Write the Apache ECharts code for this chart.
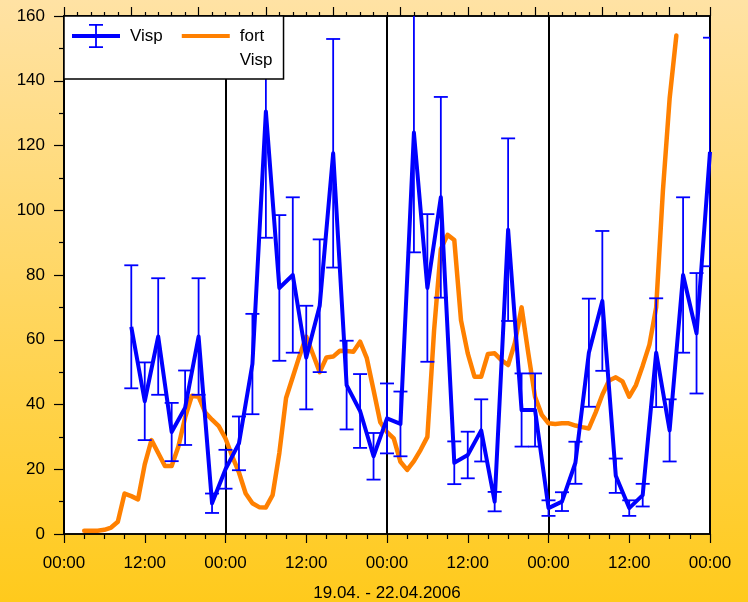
<!DOCTYPE html>
<html>
<head>
<meta charset="utf-8">
<script src="https://cdn.jsdelivr.net/npm/echarts@6/dist/echarts.min.js"></script>
<style>
  html, body { margin: 0; padding: 0; }
  #chart { width: 748px; height: 602px; }
</style>
</head>
<body>
<div id="chart"></div>
<script>
// Hours since 19.04.2006 00:00
const vispHours = [10, 12, 14, 16, 18, 20, 22, 24, 26, 28, 30, 32, 34, 36, 38, 40, 42, 44, 46, 48,
  50, 52, 54, 56, 58, 60, 62, 64, 66, 68, 70, 72, 74, 76, 78, 80, 82, 84, 86, 88, 90, 92, 94, 96];
const vispValues = [64, 41, 61, 31.5, 39, 61, 9.5, 20, 28, 52.5, 130.5, 76, 80, 54.5, 70.5, 117.6, 46, 38, 24, 35.7,
  34, 124, 76, 104, 22, 24.4, 32, 10, 94, 38.3, 38.3, 8, 10, 22, 56, 72, 18, 8, 12, 56, 32, 80, 62, 118];
const vispErrors = [19, 12, 18, 9, 11.5, 18, 3, 6, 8.3, 15.5, 39, 22.5, 24, 16, 20.5, 35.3, 13.7, 11.4, 7.2, 10.8,
  10, 37, 22.8, 31, 6.6, 7.2, 9.6, 3, 28.2, 11.3, 11.3, 2.4, 2.9, 6.5, 16.7, 21.6, 5.3, 2.4, 3.5, 16.8, 9.6, 24, 18.6, 35.3];

// "fort Visp" hourly from hour 3 to hour 91
const fortStartHour = 3;
const fortValues = [1, 1, 1, 1.3, 2, 3.8, 12.5, 11.7, 10.7, 21.5, 29, 25, 21, 21, 27, 36, 42.7, 42.4, 37.5, 35.3,
  33.3, 29.5, 24, 19, 12.5, 9.5, 8.3, 8.2, 12, 25, 42, 48.5, 55, 61, 55.5, 50, 54.5, 54.8, 56.6, 56.5,
  56.3, 59.4, 54.3, 44.5, 34.5, 31.5, 29.5, 22.3, 19.8, 22.5, 26, 30, 63, 88, 92.4, 90.8, 66, 55.8, 48.6, 48.6,
  55.6, 55.8, 53.7, 52.2, 59, 70, 55.8, 42.4, 36.8, 34.2, 34, 34.2, 34.2, 33.5, 33, 32.6, 37.5, 43, 47.4, 48.4,
  47.1, 42.4, 46, 52, 58.5, 70, 106, 134.5, 154];

const xTickLabels = ['00:00', '12:00'];
const xAxisTitle = '19.04. - 22.04.2006';

const BLUE = '#0000ff';
const ORANGE = '#ff8000';
const FONT = 'Liberation Sans, Arial, sans-serif';

const vispLine = vispHours.map((h, i) => [h, vispValues[i]]);
const vispBars = vispHours.map((h, i) => [h, vispValues[i] - vispErrors[i], vispValues[i] + vispErrors[i]]);
const fortLine = fortValues.map((v, i) => [fortStartHour + i, v]);

// legend icons: glyph in the upper-left 48x24 of a 53x48 box, so it lines up with
// the first text line and leaves a little extra room before the text
const errIcon = 'path://M0,10L48,10L48,14L0,14Z M23.1,0L24.9,0L24.9,24L23.1,24Z M17,0L31,0L31,1.8L17,1.8Z M17,22.2L31,22.2L31,24L17,24Z M53,0L53,48Z';
const lineIcon = 'path://M0,0L53,0Z M0,10L48,10L48,14L0,14Z M0,48L53,48Z';

const chart = echarts.init(document.getElementById('chart'), null, { renderer: 'canvas' });

const option = {
  animation: false,
  backgroundColor: {
    type: 'linear', x: 0, y: 0, x2: 0, y2: 1,
    colorStops: [{ offset: 0, color: '#ffe2a4' }, { offset: 1, color: '#ffca1c' }]
  },
  textStyle: { fontFamily: FONT },
  grid: {
    left: 64, top: 16, right: 38, bottom: 68,
    containLabel: false, outerBoundsMode: 'none',
    show: true, backgroundColor: '#ffffff', borderColor: '#000000', borderWidth: 1.5
  },
  legend: {
    left: 64, top: 16, z: 10,
    orient: 'horizontal',
    selectedMode: false,
    backgroundColor: '#ffffff', borderColor: '#000000', borderWidth: 1.5, borderRadius: 0,
    padding: [8, 11, 7, 8],
    itemWidth: 53, itemHeight: 48, itemGap: 19,
    itemStyle: { borderWidth: 0 },
    textStyle: { fontFamily: FONT, fontSize: 17, color: '#000', lineHeight: 24 },
    formatter: name => name === 'fort Visp' ? 'fort\nVisp' : name + '\n ',
    data: [
      { name: 'Visp', icon: errIcon, itemStyle: { color: BLUE, borderWidth: 0 } },
      { name: 'fort Visp', icon: lineIcon, itemStyle: { color: ORANGE, borderWidth: 0 } }
    ]
  },
  xAxis: [
    {
      type: 'value', min: 0, max: 96, interval: 12, position: 'bottom',
      name: xAxisTitle, nameLocation: 'middle', nameGap: 51,
      nameTextStyle: { fontFamily: FONT, fontSize: 17, color: '#000' },
      axisLine: { show: true, onZero: false, lineStyle: { color: '#000', width: 1.5 } },
      axisTick: { show: true, inside: false, length: 9, lineStyle: { color: '#000', width: 1.2 } },
      minorTick: { show: true, splitNumber: 4, length: 5, lineStyle: { color: '#000', width: 1.2 } },
      axisLabel: {
        margin: 21, fontFamily: FONT, fontSize: 17, color: '#000',
        formatter: v => xTickLabels[(v % 24 === 0) ? 0 : 1]
      },
      splitLine: { show: false }
    },
    {
      type: 'value', min: 0, max: 96, interval: 10, position: 'top',
      axisLine: { show: true, onZero: false, lineStyle: { color: '#000', width: 1.5 } },
      axisTick: { show: true, inside: false, length: 9, lineStyle: { color: '#000', width: 1.2 } },
      minorTick: { show: true, splitNumber: 5, length: 4, lineStyle: { color: '#000', width: 1.2 } },
      axisLabel: { show: false },
      splitLine: { show: false }
    },
    {
      // day boundaries
      type: 'value', min: 0, max: 96, interval: 24, position: 'bottom',
      axisLine: { show: false }, axisTick: { show: false }, axisLabel: { show: false },
      splitLine: { show: true, lineStyle: { color: '#000', width: 2 } }
    }
  ],
  yAxis: {
    type: 'value', min: 0, max: 160, interval: 20,
    axisLine: { show: true, onZero: false, lineStyle: { color: '#000', width: 1.5 } },
    axisTick: { show: true, inside: false, length: 10, lineStyle: { color: '#000', width: 1.2 } },
    minorTick: { show: true, splitNumber: 2, length: 5, lineStyle: { color: '#000', width: 1.2 } },
    axisLabel: { margin: 19, fontFamily: FONT, fontSize: 17, color: '#000' },
    splitLine: { show: false }
  },
  series: [
    {
      name: 'fort Visp', type: 'line', xAxisIndex: 0, data: fortLine,
      showSymbol: false, symbol: 'none',
      lineStyle: { color: ORANGE, width: 4.5, cap: 'round', join: 'round' },
      itemStyle: { color: ORANGE },
      z: 3
    },
    {
      name: 'Visp', type: 'custom', xAxisIndex: 0, data: vispBars, clip: true,
      encode: { x: 0, y: [1, 2] },
      itemStyle: { color: BLUE },
      renderItem: (params, api) => {
        const x = api.value(0);
        const lo = api.coord([x, api.value(1)]);
        const hi = api.coord([x, api.value(2)]);
        const hw = 7;
        const st = { stroke: BLUE, lineWidth: 1.8, fill: null };
        return {
          type: 'group',
          children: [
            { type: 'line', shape: { x1: lo[0], y1: lo[1], x2: hi[0], y2: hi[1] }, style: st },
            { type: 'line', shape: { x1: hi[0] - hw, y1: hi[1], x2: hi[0] + hw, y2: hi[1] }, style: st },
            { type: 'line', shape: { x1: lo[0] - hw, y1: lo[1], x2: lo[0] + hw, y2: lo[1] }, style: st }
          ]
        };
      },
      z: 4
    },
    {
      name: 'Visp', type: 'line', xAxisIndex: 0, data: vispLine,
      showSymbol: false, symbol: 'none',
      lineStyle: { color: BLUE, width: 4, join: 'round' },
      itemStyle: { color: BLUE },
      z: 5
    }
  ]
};

chart.setOption(option);
</script>
</body>
</html>
